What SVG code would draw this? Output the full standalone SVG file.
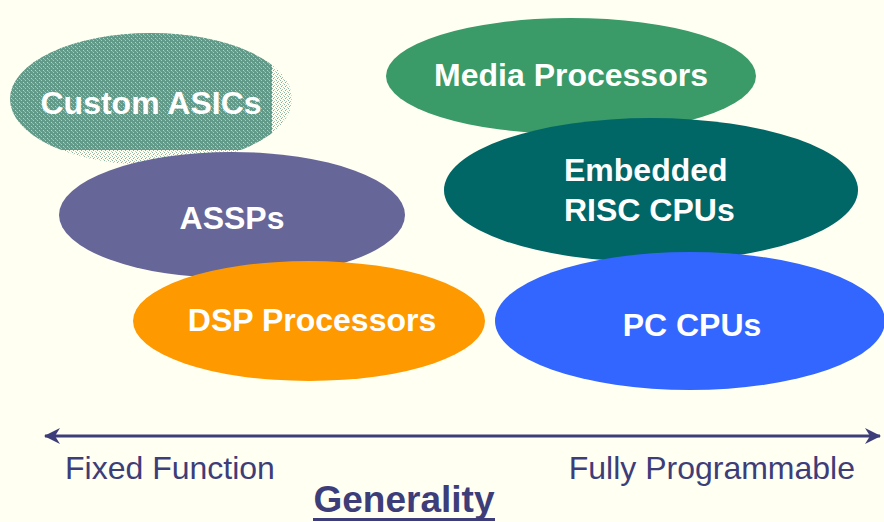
<svg xmlns="http://www.w3.org/2000/svg" width="884" height="522" viewBox="0 0 884 522">
<style>
.lbl{font-family:"Liberation Sans",Arial,sans-serif;font-weight:bold;font-size:32px;fill:#FFFFFF}
.ax{font-family:"Liberation Sans",Arial,sans-serif;font-size:32px;fill:#3D3D7A}
</style>
<defs>
<clipPath id="asicClip"><rect x="0" y="0" width="272" height="150"/></clipPath>
<pattern id="dither" width="4" height="4" patternUnits="userSpaceOnUse">
<rect width="4" height="4" fill="#629A89"/>
<rect x="1" y="0" width="1" height="1" fill="#A9CABD"/>
<rect x="3" y="2" width="1" height="1" fill="#B8D3C8"/>
<rect x="0" y="3" width="1" height="1" fill="#8CB5A6"/>
</pattern>
<pattern id="ditherLight" width="4" height="4" patternUnits="userSpaceOnUse">
<rect width="4" height="4" fill="#FFFFF0"/>
<rect x="0" y="0" width="1" height="1" fill="#8DB6A6"/>
<rect x="2" y="1" width="1" height="1" fill="#A3C4B6"/>
<rect x="1" y="2" width="1" height="1" fill="#7FAE9C"/>
<rect x="3" y="3" width="1" height="1" fill="#B4D0C3"/>
</pattern>
<marker id="ah" viewBox="0 0 16 16" refX="15" refY="8" markerWidth="16" markerHeight="16" markerUnits="userSpaceOnUse" orient="auto-start-reverse">
<path d="M0,0 L16,8 L0,16 L5,8 Z" fill="#3D3D7A"/>
</marker>
</defs>
<rect width="884" height="522" fill="#FFFFF2"/>
<g id="custom-asics">
<ellipse cx="151" cy="99" rx="141" ry="66" fill="url(#ditherLight)"/>
<ellipse cx="151" cy="99" rx="141" ry="66" fill="url(#dither)" clip-path="url(#asicClip)"/>
<text class="lbl" x="151" y="114" text-anchor="middle" fill="#F0F0F5">Custom ASICs</text>
</g>
<g id="assps">
<ellipse cx="232" cy="215" rx="173" ry="63" fill="#666699"/>
<text class="lbl" x="232" y="229" text-anchor="middle">ASSPs</text>
</g>
<g id="dsp">
<ellipse cx="309" cy="321" rx="176" ry="60" fill="#FF9900"/>
<text class="lbl" x="312" y="331" text-anchor="middle">DSP Processors</text>
</g>
<g id="media">
<ellipse cx="571" cy="76" rx="185" ry="58" fill="#3A9A68"/>
<text class="lbl" x="571" y="86" text-anchor="middle">Media Processors</text>
</g>
<g id="embedded">
<ellipse cx="651" cy="190" rx="207" ry="72" fill="#006666"/>
<text class="lbl" x="564" y="181">Embedded</text>
<text class="lbl" x="564" y="221">RISC CPUs</text>
</g>
<g id="pc">
<ellipse cx="690" cy="321" rx="195" ry="69" fill="#3366FF"/>
<text class="lbl" x="692" y="336" text-anchor="middle">PC CPUs</text>
</g>
<g id="connectors">
<line x1="45" y1="436" x2="880" y2="436" stroke="#3D3D7A" stroke-width="3" marker-start="url(#ah)" marker-end="url(#ah)"/>
</g>
<g id="axis-labels">
<text class="ax" x="65" y="479">Fixed Function</text>
<text class="ax" x="855" y="479" text-anchor="end">Fully Programmable</text>
<text x="404" y="512" text-anchor="middle" font-family="'Liberation Sans',Arial,sans-serif" font-weight="bold" font-size="37" fill="#3D3D7A">Generality</text>
<rect x="313" y="518" width="182" height="3" fill="#3D3D7A"/>
</g>
</svg>
